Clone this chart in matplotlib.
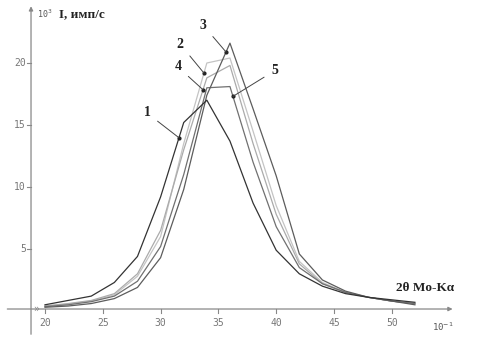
import numpy as np
import matplotlib
matplotlib.use("Agg")
import matplotlib.pyplot as plt

# data
two_theta = [20, 22, 24, 26, 28, 30, 32, 34, 36, 38, 40, 42, 44, 46, 48, 50, 52]
curve1 = [0.5, 0.85, 1.2, 2.3, 4.4, 9.2, 15.2, 17.0, 13.7, 8.7, 4.9, 3.0, 2.0, 1.4, 1.1, 0.9, 0.7]
curve2 = [0.4, 0.55, 0.8, 1.3, 2.8, 6.0, 13.5, 20.0, 20.4, 14.5, 8.5, 4.0, 2.3, 1.5, 1.1, 0.8, 0.6]
curve3 = [0.3, 0.4, 0.6, 1.0, 1.9, 4.3, 9.8, 17.4, 21.6, 16.3, 10.9, 4.6, 2.5, 1.6, 1.1, 0.8, 0.5]
curve4 = [0.4, 0.6, 0.85, 1.4, 3.0, 6.5, 13.0, 18.8, 19.8, 13.5, 7.8, 3.8, 2.2, 1.5, 1.1, 0.8, 0.6]
curve5 = [0.35, 0.5, 0.75, 1.2, 2.4, 5.2, 11.0, 18.0, 18.1, 12.0, 6.8, 3.5, 2.2, 1.5, 1.1, 0.8, 0.6]
x_ticks = [20, 25, 30, 35, 40, 45, 50]
y_ticks = [5, 10, 15, 20]

W, H = 478, 341
fig = plt.figure(figsize=(W / 100, H / 100), dpi=100)
ax = fig.add_axes([0, 0, 1, 1])
ax.set_xlim(16.107, 57.457)
ax.set_ylim(-2.42, 25.08)
ax.axis('off')

# axes lines
yax_x = 18.79
ax.annotate('', xy=(yax_x, 24.8), xytext=(yax_x, -2.1),
            arrowprops=dict(arrowstyle='-|>', color='#888888', lw=0.9,
                            mutation_scale=6))
ax.annotate('', xy=(55.5, 0.16), xytext=(16.5, 0.16),
            arrowprops=dict(arrowstyle='-|>', color='#888888', lw=0.9,
                            mutation_scale=6))
ax.text(19.25, 0.2, '»', fontsize=7, color='#888888', ha='center', va='center')

for t in x_ticks:
    ax.plot([t, t], [0.16, -0.15], color='#888888', lw=0.8)
    ax.text(t, -1.0, str(t), fontsize=7, color='#777777', family='DejaVu Sans Mono',
            ha='center', va='center')
for t in y_ticks:
    ax.plot([yax_x - 0.35, yax_x], [t, t], color='#888888', lw=0.8)
    ax.text(yax_x - 0.45, t, str(t), fontsize=7, color='#777777',
            family='DejaVu Sans Mono', ha='right', va='center')

series = [
    (curve2, '#c4c4c4'),
    (curve4, '#ababab'),
    (curve5, '#707070'),
    (curve3, '#5c5c5c'),
    (curve1, '#333333'),
]
for ys, c in series:
    ax.plot(two_theta, ys, color=c, lw=0.9)

labels = [
    ('1', curve1, 31.59, (28.82, 15.97)),
    ('2', curve2, 33.75, (31.68, 21.53)),
    ('3', curve3, 35.66, (33.67, 23.06)),
    ('4', curve4, 33.67, (31.5, 19.68)),
    ('5', curve5, 36.26, (39.9, 19.4)),
]
for lab, ys, xp, (tx, ty) in labels:
    yp = np.interp(xp, two_theta, ys)
    ax.plot([xp], [yp], marker='o', ms=2, color='#222222')
    ax.annotate(lab, xy=(xp, yp), xytext=(tx, ty), fontsize=10, fontweight='bold',
                family='Liberation Serif', color='#222222', ha='center', va='center',
                arrowprops=dict(arrowstyle='-', color='#444444', lw=0.7,
                                shrinkA=4, shrinkB=0))

ax.text(19.3, 24.0, '10$^3$', fontsize=6, color='#555555', family='DejaVu Sans Mono',
        va='center', ha='left')
ax.text(21.2, 23.9, 'I, имп/с', fontsize=9.5, fontweight='bold',
        family='Liberation Serif', color='#222222', va='center', ha='left')
ax.text(50.4, 1.85, '2θ Mo-Kα', fontsize=9.5, fontweight='bold',
        family='Liberation Serif', color='#222222', va='center', ha='left')
ax.text(53.5, -1.25, '10$^{-1}$', fontsize=6.5, color='#555555',
        family='DejaVu Sans Mono', va='center', ha='left')

fig.savefig('out.png', dpi=100, facecolor='white')
